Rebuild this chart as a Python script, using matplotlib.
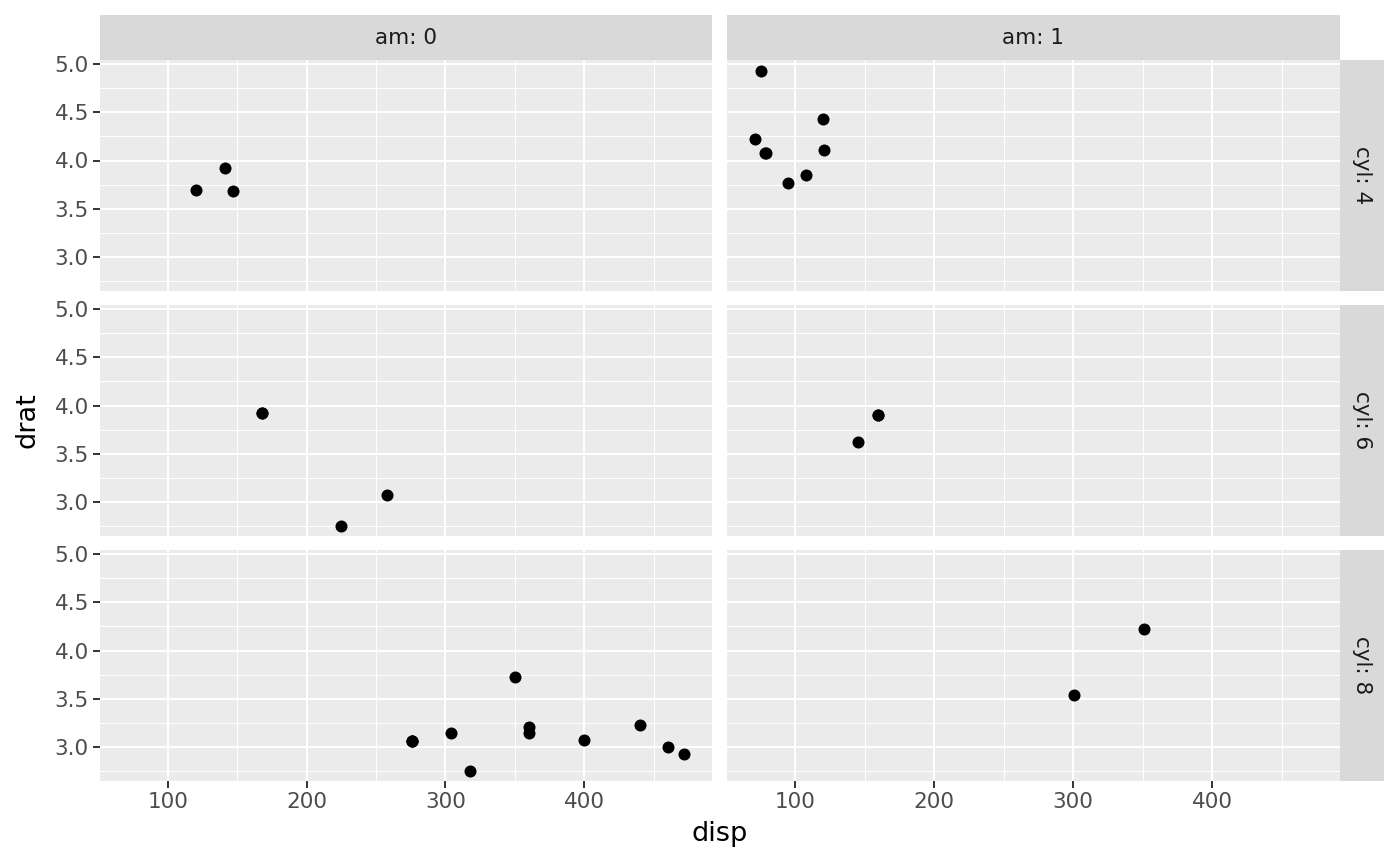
import matplotlib
matplotlib.use("Agg")
import matplotlib.pyplot as plt
from matplotlib.ticker import MultipleLocator, FormatStrFormatter

# mtcars: disp, drat, cyl, am
disp = [160, 160, 108, 258, 360, 225, 360, 146.7, 140.8, 167.6, 167.6,
        275.8, 275.8, 275.8, 472, 460, 440, 78.7, 75.7, 71.1, 120.1,
        318, 304, 350, 400, 79, 120.3, 95.1, 351, 145, 301, 121]
drat = [3.90, 3.90, 3.85, 3.08, 3.15, 2.76, 3.21, 3.69, 3.92, 3.92, 3.92,
        3.07, 3.07, 3.07, 2.93, 3.00, 3.23, 4.08, 4.93, 4.22, 3.70,
        2.76, 3.15, 3.73, 3.08, 4.08, 4.43, 3.77, 4.22, 3.62, 3.54, 4.11]
cyl = [6, 6, 4, 6, 8, 6, 8, 4, 4, 6, 6, 8, 8, 8, 8, 8, 8, 4, 4, 4, 4,
       8, 8, 8, 8, 4, 4, 4, 8, 6, 8, 4]
am = [1, 1, 1, 0, 0, 0, 0, 0, 0, 0, 0, 0, 0, 0, 0, 0, 0, 1, 1, 1, 0,
      0, 0, 0, 0, 1, 1, 1, 1, 1, 1, 1]

cyl_levels = [4, 6, 8]
am_levels = [0, 1]

W, H = 1400, 865
fig = plt.figure(figsize=(W / 100, H / 100), dpi=100)

# panel geometry in pixels
col_x = [(100, 712), (727, 1340)]
row_y = [(60, 291), (305, 536), (550, 781)]
strip_top = 15
strip_right = 1384


def px(x0, y0, x1, y1):
    return [x0 / W, 1 - y1 / H, (x1 - x0) / W, (y1 - y0) / H]


xpad = (max(disp) - min(disp)) * 0.05
ypad = (max(drat) - min(drat)) * 0.05
xlim = (min(disp) - xpad, max(disp) + xpad)
ylim = (min(drat) - ypad, max(drat) + ypad)

for r, c_val in enumerate(cyl_levels):
    for c, a_val in enumerate(am_levels):
        x0, x1 = col_x[c]
        y0, y1 = row_y[r]
        ax = fig.add_axes(px(x0, y0, x1, y1))
        ax.set_facecolor("#EBEBEB")
        for s in ax.spines.values():
            s.set_visible(False)
        ax.set_xlim(xlim)
        ax.set_ylim(ylim)
        ax.xaxis.set_major_locator(MultipleLocator(100))
        ax.xaxis.set_minor_locator(MultipleLocator(50))
        ax.yaxis.set_major_locator(MultipleLocator(0.5))
        ax.yaxis.set_minor_locator(MultipleLocator(0.25))
        ax.grid(which="major", color="white", linewidth=1.5)
        ax.grid(which="minor", color="white", linewidth=0.75)
        ax.set_axisbelow(True)
        ax.tick_params(which="minor", length=0)
        ax.tick_params(which="major", length=5, width=1.4, color="#333333",
                       labelcolor="#4D4D4D", labelsize=15.5, pad=3)
        ax.yaxis.set_major_formatter(FormatStrFormatter("%.1f"))
        if c != 0:
            ax.tick_params(axis="y", left=False, labelleft=False)
        if r != 2:
            ax.tick_params(axis="x", bottom=False, labelbottom=False)

        xs = [d for d, cy, a in zip(disp, cyl, am) if cy == c_val and a == a_val]
        ys = [d for d, cy, a in zip(drat, cyl, am) if cy == c_val and a == a_val]
        ax.scatter(xs, ys, s=75, color="black", linewidths=0, zorder=3)

# column strips
for c, a_val in enumerate(am_levels):
    x0, x1 = col_x[c]
    sax = fig.add_axes(px(x0, strip_top, x1, row_y[0][0]))
    sax.set_facecolor("#D9D9D9")
    sax.set_xticks([])
    sax.set_yticks([])
    for s in sax.spines.values():
        s.set_visible(False)
    sax.text(0.5, 0.5, f"am: {a_val}", ha="center", va="center",
             fontsize=15.5, color="#1A1A1A", transform=sax.transAxes)

# row strips
for r, c_val in enumerate(cyl_levels):
    y0, y1 = row_y[r]
    sax = fig.add_axes(px(col_x[1][1], y0, strip_right, y1))
    sax.set_facecolor("#D9D9D9")
    sax.set_xticks([])
    sax.set_yticks([])
    for s in sax.spines.values():
        s.set_visible(False)
    sax.text(0.5, 0.5, f"cyl: {c_val}", ha="center", va="center",
             rotation=-90, fontsize=15.5, color="#1A1A1A",
             transform=sax.transAxes)

fig.text((col_x[0][0] + col_x[1][1]) / 2 / W, 1 - 834 / H, "disp",
         ha="center", va="center", fontsize=19.5, color="black")
fig.text(28 / W, 1 - ((row_y[0][0] + row_y[2][1]) / 2) / H, "drat",
         ha="center", va="center", rotation=90, fontsize=19.5, color="black")

fig.savefig("out.png", dpi=100, facecolor="white")
